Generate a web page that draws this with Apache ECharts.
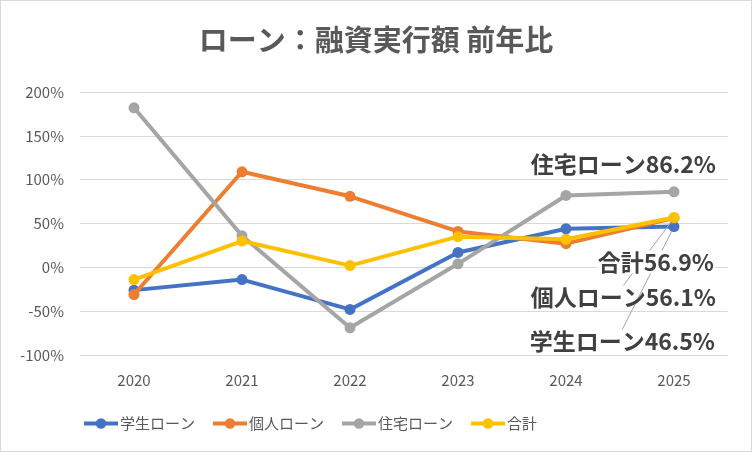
<!DOCTYPE html>
<html>
<head>
<meta charset="utf-8">
<script src="https://cdn.jsdelivr.net/npm/echarts@6/dist/echarts.min.js"></script>
<style>
html,body{margin:0;padding:0;background:#fff;}
#c{width:750px;height:450px;border:1px solid #d9d9d9;}
</style>
</head>
<body>
<div id="c"></div>
<script>
const categories = ['2020','2021','2022','2023','2024','2025'];
const studentLoan = [-26, -14, -48, 17, 44, 46.5];
const personalLoan = [-31, 109, 81, 41, 27, 56.1];
const housingLoan = [182, 36, -69, 4, 82, 86.2];
const total = [-14, 30, 2, 35, 32, 56.9];
const seriesNames = ['学生ローン','個人ローン','住宅ローン','合計'];
const yTicks = {min: -100, max: 200, interval: 50};

const FONT = '"Noto Sans CJK JP", "Noto Sans", sans-serif';
const colors = ['#4472C4','#ED7D31','#A5A5A5','#FFC000'];
const labelPos = [
  {x: 714, y: 340, line: true},
  {x: 715, y: 296, line: true},
  {x: 715, y: 163, line: false},
  {x: 713, y: 261, line: false}
];

function build(values, idx) {
  const last = values.length - 1;
  return {
    name: seriesNames[idx],
    type: 'line',
    symbol: 'circle',
    symbolSize: 11,
    lineStyle: {width: 4, color: colors[idx]},
    itemStyle: {color: colors[idx]},
    data: values.map((v, i) => i === last ? {
      value: v,
      label: {
        show: true,
        formatter: (p) => p.seriesName + p.value.toFixed(1) + '%',
        fontFamily: FONT, fontSize: 23, fontWeight: 'bold', color: '#404040',
        backgroundColor: idx === 3 ? '#fff' : 'transparent'
      },
      labelLine: {show: labelPos[idx].line, lineStyle: {color: '#A5A5A5', width: 1}}
    } : v),
    labelLayout: (p) => p.dataIndex === last ? {x: labelPos[idx].x, y: labelPos[idx].y, align: 'right', verticalAlign: 'middle'} : {},
    labelLine: {show: labelPos[idx].line, lineStyle: {color: '#A5A5A5', width: 1}},
    z: 2 + idx
  };
}

const chart = echarts.init(document.getElementById('c'));
chart.setOption({
  animation: false,
  backgroundColor: '#fff',
  color: colors,
  title: {
    text: 'ローン：融資実行額 前年比',
    left: 'center', top: 19,
    textStyle: {fontFamily: FONT, fontSize: 29, fontWeight: 'bold', color: '#595959'}
  },
  grid: {left: 79, right: 23, top: 91, bottom: 96},
  xAxis: {
    type: 'category',
    data: categories,
    boundaryGap: true,
    axisLine: {show: false},
    axisTick: {show: false},
    axisLabel: {fontFamily: FONT, fontSize: 15, color: '#595959', margin: 18}
  },
  yAxis: {
    type: 'value',
    min: yTicks.min, max: yTicks.max, interval: yTicks.interval,
    axisLine: {show: false},
    axisTick: {show: false},
    splitLine: {lineStyle: {color: '#d9d9d9', width: 1}},
    axisLabel: {fontFamily: FONT, fontSize: 15, color: '#595959', margin: 16, formatter: (v) => v + '%'}
  },
  legend: {
    data: seriesNames,
    left: 76, top: 410,
    itemWidth: 34, itemHeight: 13, itemGap: 16,
    lineStyle: {width: 4},
    textStyle: {fontFamily: FONT, fontSize: 15, color: '#595959', padding: [0,0,0,-3]}
  },
  series: [
    build(studentLoan, 0),
    build(personalLoan, 1),
    build(housingLoan, 2),
    build(total, 3)
  ]
});
</script>
</body>
</html>
